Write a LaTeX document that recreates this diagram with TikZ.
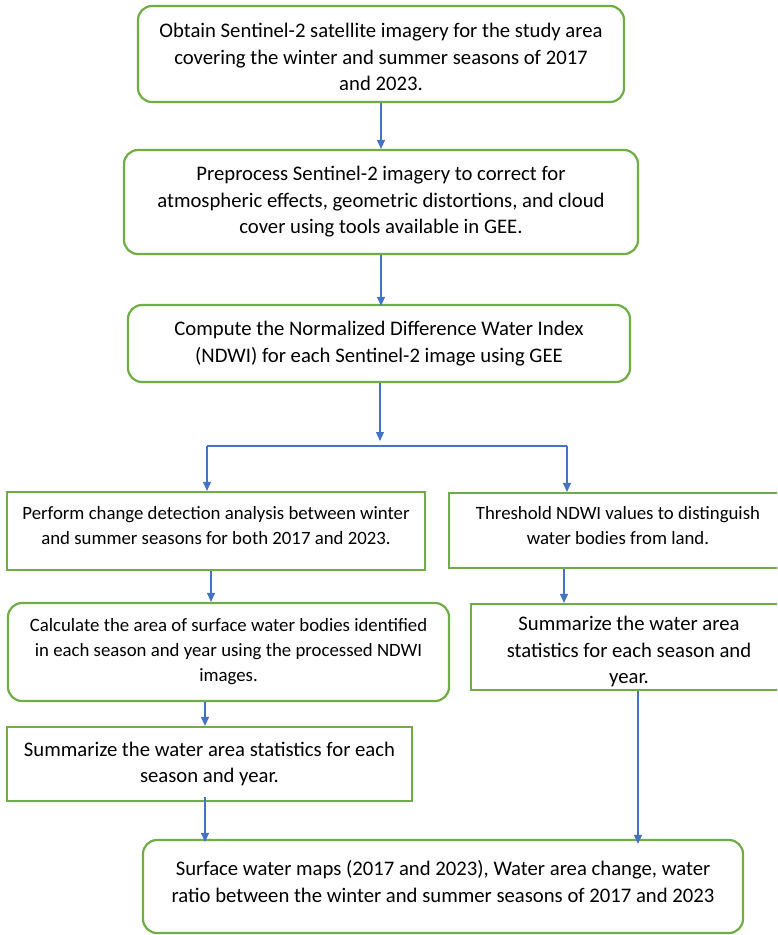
\documentclass[tikz,border=0pt]{standalone}
\usepackage{fontspec}
\setmainfont{Carlito}
\usepackage{tikz}
\usetikzlibrary{arrows.meta}
\definecolor{boxgreen}{HTML}{70AD47}
\definecolor{flowblue}{HTML}{4472C4}
\newcommand{\padtop}[1]{\rule{0pt}{#1}}
\newcommand{\padbottom}[1]{\rule[-#1]{0pt}{#1}}
\tikzset{
  roundbox/.style={draw=boxgreen, line width=2.2pt, rounded corners=14pt, align=center, inner sep=0pt},
  squarebox/.style={draw=boxgreen, line width=2.2pt, align=center, inner sep=0pt},
  bigtext/.style={font=\fontsize{20.7}{26.5}\selectfont},
  smalltext/.style={font=\fontsize{18.8}{25}\selectfont},
  flow/.style={draw=flowblue, line width=1.1pt, -{Triangle[length=9pt,width=8pt]}},
  joint/.style={draw=flowblue, line width=1.1pt}
}

\begin{document}
\begin{tikzpicture}[x=1pt,y=-1pt]
            \useasboundingbox (0,0) rectangle (777,935);
            \clip (0,0) rectangle (777,935);
            % main column
            \node[roundbox, bigtext, minimum width=486pt, minimum height=96pt] (obtain) at (381,54)
                {\padtop{21pt}Obtain Sentinel-2 satellite imagery for the study area\\covering the winter and summer seasons of 2017\\and 2023.};
            \node[roundbox, bigtext, minimum width=514pt, minimum height=104pt] (preproc) at (381,202)
                {Preprocess Sentinel-2 imagery to correct for\\atmospheric effects, geometric distortions, and cloud\\cover using tools available in GEE.};
            \node[roundbox, bigtext, minimum width=502pt, minimum height=77pt] (ndwi) at (379,343.5)
                {Compute the Normalized Difference Water Index\\(NDWI) for each Sentinel-2 image using GEE};
            % left branch
            \node[squarebox, smalltext, minimum width=418pt, minimum height=78pt] (change) at (216,531)
                {Perform change detection analysis between winter\\and summer seasons for both 2017 and 2023.\padbottom{12pt}};
            \node[roundbox, smalltext, minimum width=441pt, minimum height=98pt] (area) at (228.5,652)
                {Calculate the area of surface water bodies identified\\in each season and year using the processed NDWI\\images.};
            \node[squarebox, bigtext, minimum width=405pt, minimum height=74pt] (sumleft) at (209.5,764)
                {Summarize the water area statistics for each\\season and year.};
            % right branch
            \node[squarebox, smalltext, minimum width=338pt, minimum height=75pt] (thresh) at (618,530.5)
                {Threshold NDWI values to distinguish\\water bodies from land.\padbottom{10pt}};
            \node[squarebox, bigtext, minimum width=316pt, minimum height=86pt] (sumright) at (629,647)
                {\padtop{24pt}Summarize the water area\\statistics for each season and\\year.};
            % result
            \node[roundbox, bigtext, minimum width=600pt, minimum height=93pt] (result) at (443,886.5)
                {Surface water maps (2017 and 2023), Water area change, water\\ratio between the winter and summer seasons of 2017 and 2023\padbottom{10pt}};
            % split
            \coordinate (split) at (380,441);
            \coordinate (splitL) at (207,446);
            \coordinate (splitR) at (567,446);
            \draw[flow] (obtain.south) -- (obtain.south |- preproc.north);
            \draw[flow] (preproc.south) -- ([yshift=-2pt]preproc.south |- ndwi.north);
            \draw[flow] (ndwi.south -| split) -- (split);
            \draw[joint] (splitL) -- (splitR);
            \draw[flow] (splitL) -- (splitL |- change.north);
            \draw[flow] (splitR) -- (splitR |- thresh.north);
            \draw[flow] ([xshift=-5pt]change.south) -- ([xshift=-5pt]change.south |- area.north);
            \draw[flow] ([xshift=-54pt]thresh.south) -- ([xshift=-54pt]thresh.south |- sumright.north);
            \draw[flow] ([xshift=-23.5pt]area.south) -- ([xshift=-23.5pt]area.south |- sumleft.north);
            \draw[flow] ([xshift=-4.5pt,yshift=5pt]sumleft.south) -- ([xshift=-4.5pt,yshift=-3pt]sumleft.south |- result.north);
            \draw[flow] ([xshift=9pt]sumright.south) -- ([xshift=9pt,yshift=-5pt]sumright.south |- result.north);
        \end{tikzpicture}
\end{document}
